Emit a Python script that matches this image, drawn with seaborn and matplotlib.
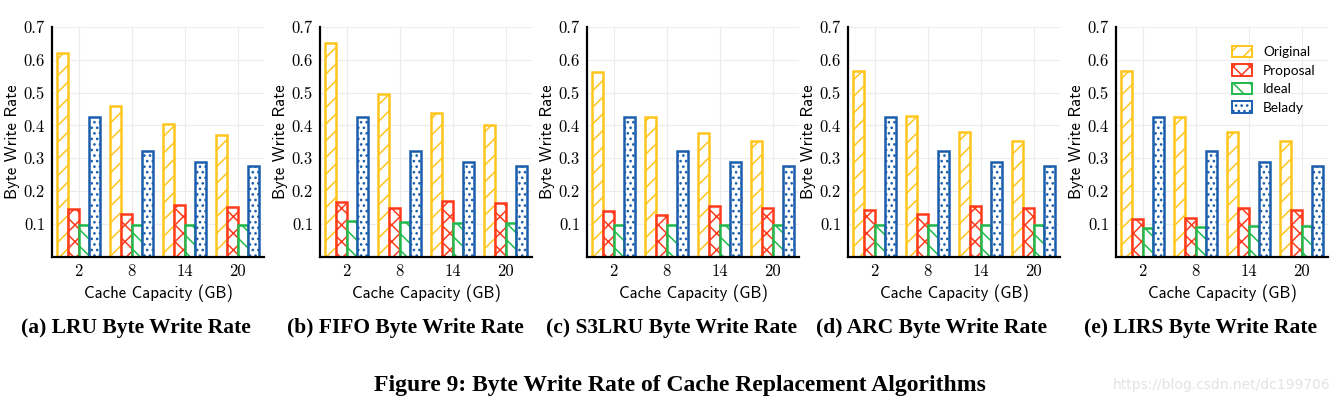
import matplotlib
matplotlib.use("Agg")
import matplotlib.pyplot as plt
from matplotlib.patches import Patch
import seaborn as sns
import pandas as pd

# ---------------- data ----------------
capacities = ["2", "8", "14", "20"]
series = ["Original", "Proposal", "Ideal", "Belady"]
algorithms = ["LRU", "FIFO", "S3LRU", "ARC", "LIRS"]
panel_letters = ["a", "b", "c", "d", "e"]

lru_original = [0.621, 0.460, 0.404, 0.372]
lru_proposal = [0.147, 0.132, 0.157, 0.151]
lru_ideal = [0.098, 0.096, 0.096, 0.096]

fifo_original = [0.651, 0.496, 0.438, 0.401]
fifo_proposal = [0.166, 0.148, 0.171, 0.163]
fifo_ideal = [0.110, 0.105, 0.102, 0.102]

s3lru_original = [0.563, 0.426, 0.378, 0.354]
s3lru_proposal = [0.139, 0.129, 0.154, 0.148]
s3lru_ideal = [0.098, 0.098, 0.098, 0.098]

arc_original = [0.565, 0.430, 0.381, 0.354]
arc_proposal = [0.142, 0.132, 0.154, 0.148]
arc_ideal = [0.098, 0.096, 0.096, 0.096]

lirs_original = [0.566, 0.427, 0.381, 0.354]
lirs_proposal = [0.114, 0.120, 0.148, 0.142]
lirs_ideal = [0.088, 0.091, 0.093, 0.093]

belady = [0.426, 0.321, 0.289, 0.276]

yticks = [0.1, 0.2, 0.3, 0.4, 0.5, 0.6, 0.7]

panel_data = {
    "LRU": [lru_original, lru_proposal, lru_ideal, belady],
    "FIFO": [fifo_original, fifo_proposal, fifo_ideal, belady],
    "S3LRU": [s3lru_original, s3lru_proposal, s3lru_ideal, belady],
    "ARC": [arc_original, arc_proposal, arc_ideal, belady],
    "LIRS": [lirs_original, lirs_proposal, lirs_ideal, belady],
}

# ---------------- style ----------------
sns.set_theme(style="white")
plt.rcParams["hatch.linewidth"] = 1.1
plt.rcParams["text.color"] = "black"
plt.rcParams["axes.labelcolor"] = "black"
plt.rcParams["xtick.color"] = "black"
plt.rcParams["ytick.color"] = "black"

colors = {"Original": "#FFC51C", "Proposal": "#FF3A1C",
          "Ideal": "#20BA4C", "Belady": "#1A5EAD"}
hatches = {"Original": "//", "Proposal": "xx", "Ideal": "\\\\", "Belady": "..."}

W, H = 1339, 404
fig = plt.figure(figsize=(W / 100, H / 100), dpi=100)

lefts = [52, 320, 587, 848, 1116]
ax_w = 212
top_px, bot_px = 26.7, 257

title_centers = [136, 405, 671, 931, 1200]

for i, alg in enumerate(algorithms):
    ax = fig.add_axes([lefts[i] / W, 1 - bot_px / H, ax_w / W, (bot_px - top_px) / H])
    rows = []
    for s, vals in zip(series, panel_data[alg]):
        for c, v in zip(capacities, vals):
            rows.append({"cap": c, "rate": v, "series": s})
    df = pd.DataFrame(rows)
    sns.barplot(data=df, x="cap", y="rate", hue="series", order=capacities,
                hue_order=series, palette=colors, width=0.83, ax=ax,
                legend=False, errorbar=None)
    for cont, s in zip(ax.containers, series):
        for bar in cont:
            bar.set_facecolor("white")
            bar.set_edgecolor(colors[s])
            bar.set_hatch(hatches[s])
            bar.set_linewidth(1.8)
    ax.set_ylim(0, 0.7)
    ax.set_xlim(-0.5, 3.5)
    ax.set_yticks(yticks)
    ax.set_yticklabels([f"{t:.1f}" for t in yticks], fontfamily="cmr10", fontsize=12)
    ax.set_xticks(range(len(capacities)))
    ax.set_xticklabels(capacities, fontfamily="cmr10", fontsize=12)
    ax.tick_params(axis="y", direction="inout", length=6, width=1.2, color="black", pad=2)
    ax.tick_params(axis="x", length=0, pad=5)
    ax.set_ylabel("Byte Write Rate", fontfamily="cmss10", fontsize=12, labelpad=3)
    ax.set_xlabel("Cache Capacity (GB)", fontfamily="cmss10", fontsize=12, labelpad=4)
    ax.grid(True, color="#ececec", linewidth=0.8)
    ax.set_axisbelow(True)
    for sp in ["top", "right"]:
        ax.spines[sp].set_visible(False)
    for sp in ["left", "bottom"]:
        ax.spines[sp].set_color("black")
        ax.spines[sp].set_linewidth(1.6)
    fig.text(title_centers[i] / W, 1 - 328 / H,
             f"({panel_letters[i]}) {alg} Byte Write Rate",
             ha="center", va="center", fontfamily="Liberation Serif",
             fontweight="bold", fontsize=15.5, color="black")
    if alg == "LIRS":
        handles = [Patch(facecolor="white", edgecolor=colors[s], hatch=hatches[s],
                         linewidth=1.4, label=s) for s in series]
        ax.legend(handles=handles, loc="upper right", bbox_to_anchor=(1.0, 0.97),
                  frameon=False, prop={"family": "Lato", "size": 9.8},
                  handlelength=1.5, handleheight=0.9, labelspacing=0.45,
                  handletextpad=0.8)

fig.text(680 / W, 1 - 385 / H,
         "Figure 9: Byte Write Rate of Cache Replacement Algorithms",
         ha="center", va="center", fontfamily="Liberation Serif",
         fontweight="bold", fontsize=17, color="black")
fig.text(1330 / W, 1 - 385 / H, "https://blog.csdn.net/dc199706",
         ha="right", va="center", fontfamily="DejaVu Sans",
         fontsize=10, color="#e3e3e3")

fig.savefig("out.png", dpi=100, facecolor="white")
